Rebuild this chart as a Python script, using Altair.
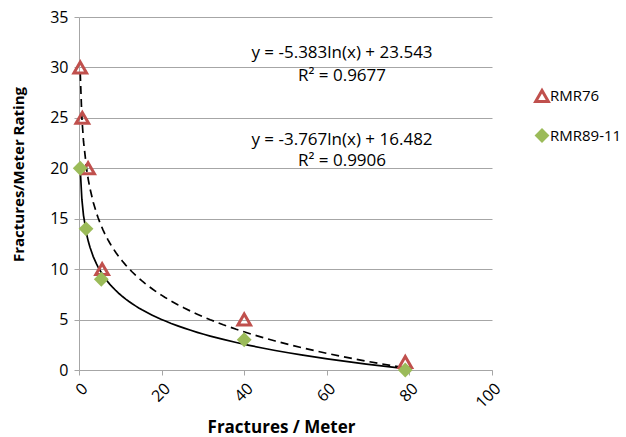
import altair as alt
import pandas as pd

# Data
rmr76_x = [0.3, 0.8, 2.2, 5.6, 40, 79]
rmr76_y = [30, 25, 20, 10, 5, 0.8]
rmr89_x = [0.3, 1.7, 5.4, 40, 79]
rmr89_y = [20, 14, 9, 3, 0]
series_names = ["RMR76", "RMR89-11"]
eq_texts = ["y = -5.383ln(x) + 23.543", "R\u00b2 = 0.9677",
            "y = -3.767ln(x) + 16.482", "R\u00b2 = 0.9906"]
x_ticks = [0, 20, 40, 60, 80, 100]
y_ticks = [0, 5, 10, 15, 20, 25, 30, 35]

df = pd.DataFrame({
    "x": rmr76_x + rmr89_x,
    "y": rmr76_y + rmr89_y,
    "series": [series_names[0]] * len(rmr76_x) + [series_names[1]] * len(rmr89_x),
})

FONT = "Open Sans"
RED = "#C0504D"
GREEN = "#9BBB59"
GRID = "#A6A6A6"

xenc = alt.X("x:Q", scale=alt.Scale(domain=[0, 100], nice=False),
             axis=alt.Axis(values=x_ticks, grid=False, labelAngle=-45,
                           labelAlign="right", labelBaseline="top",
                           title="Fractures / Meter", titleFontWeight="bold",
                           titleFontSize=17, titleX=202, titleY=57,
                           titleBaseline="middle", labelFontSize=16,
                           labelColor="#000", titleColor="#000",
                           domainColor=GRID, tickColor=GRID, tickSize=5,
                           labelPadding=5, labelFont=FONT, titleFont=FONT))
yenc = alt.Y("y:Q", scale=alt.Scale(domain=[0, 35], nice=False),
             axis=alt.Axis(values=y_ticks, grid=True, gridColor=GRID,
                           title="Fractures/Meter  Rating", titleFontWeight="bold",
                           titleFontSize=15, titleX=-61, titleY=157,
                           titleBaseline="middle", labelFontSize=16,
                           labelColor="#000", titleColor="#000",
                           domainColor=GRID, tickColor=GRID, tickSize=5,
                           labelPadding=6, labelFont=FONT, titleFont=FONT))

base = alt.Chart(df)

points = base.mark_point(opacity=1).encode(
    x=xenc, y=yenc,
    shape=alt.Shape("series:N", scale=alt.Scale(domain=series_names,
                                                range=["triangle-up", "diamond"]),
                    legend=alt.Legend(title=None, orient="none", legendX=455,
                                      legendY=71, labelFontSize=15, labelFont=FONT,
                                      labelColor="#000", rowPadding=20,
                                      symbolOpacity=1, labelOffset=0)),
    stroke=alt.Stroke("series:N", scale=alt.Scale(domain=series_names,
                                                  range=[RED, GREEN])),
    fill=alt.Fill("series:N", scale=alt.Scale(domain=series_names,
                                              range=["transparent", GREEN])),
    strokeWidth=alt.StrokeWidth("series:N", scale=alt.Scale(domain=series_names,
                                                            range=[3, 0])),
    size=alt.Size("series:N", scale=alt.Scale(domain=series_names,
                                              range=[160, 220])),
)

trend76 = base.transform_filter(
    alt.datum.series == series_names[0]
).transform_regression("x", "y", method="log").mark_line(
    color="black", strokeWidth=1.7, strokeDash=[8, 5]).encode(x="x:Q", y="y:Q")

trend89 = base.transform_filter(
    alt.datum.series == series_names[1]
).transform_regression("x", "y", method="log").mark_line(
    color="black", strokeWidth=1.7).encode(x="x:Q", y="y:Q")

eq_df = pd.DataFrame({"t": eq_texts, "py": [36, 59, 123, 144]})
eqs = alt.Chart(eq_df).mark_text(font=FONT, fontSize=17, color="#000",
                                 align="center", baseline="middle").encode(
    x=alt.value(263), y=alt.Y("py:Q", scale=None), text="t:N")

chart = alt.layer(trend76, trend89, points, eqs).properties(
    width=413, height=353,
    padding={"left": 79, "top": 17, "right": 134, "bottom": 67},
    autosize=alt.AutoSizeParams(type="none"),
    background="white",
).configure_view(stroke=None)

chart.save("out.html", embed_options={"renderer": "svg", "actions": False})
